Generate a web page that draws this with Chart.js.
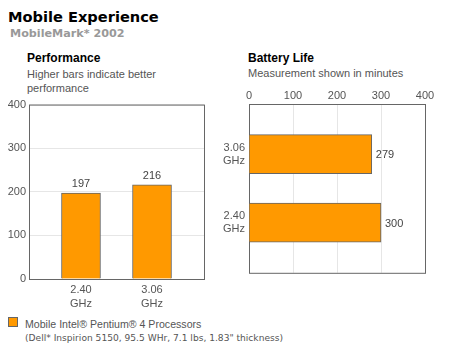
<!DOCTYPE html>
<html><head><meta charset="utf-8">
<script src="https://cdn.jsdelivr.net/npm/chart.js@4"></script>
<style>
html,body{margin:0;padding:0;background:#fff;width:450px;height:355px;overflow:hidden;position:relative;font-family:"Liberation Sans",Arial,sans-serif;}
.t{position:absolute;white-space:nowrap;line-height:1;}
canvas{position:absolute;}
</style></head><body>
<div class="t" style="left:8px;top:8px;font:bold 14.6px 'DejaVu Sans',Verdana,sans-serif;color:#000;">Mobile Experience</div>
<div class="t" style="left:10px;top:27px;font:bold 11.2px 'DejaVu Sans',Verdana,sans-serif;color:#999;">MobileMark* 2002</div>
<div class="t" style="left:27px;top:51px;font:bold 12px 'Liberation Sans',Arial,sans-serif;color:#000;">Performance</div>
<div class="t" style="left:27px;top:67px;font:11px 'Liberation Sans',Arial,sans-serif;color:#555;line-height:14px;">Higher bars indicate better<br>performance</div>
<div class="t" style="left:248px;top:51px;font:bold 12px 'Liberation Sans',Arial,sans-serif;color:#000;">Battery Life</div>
<div class="t" style="left:248px;top:67px;font:11px 'Liberation Sans',Arial,sans-serif;color:#555;">Measurement shown in minutes</div>
<div style="position:absolute;left:8px;top:317px;width:8px;height:8px;background:#FF9900;border:1px solid #666;"></div>
<div class="t" style="left:25px;top:318px;font:10.6px 'Liberation Sans',Arial,sans-serif;color:#555;">Mobile Intel® Pentium® 4 Processors</div>
<div class="t" style="left:25px;top:333px;font:9.1px 'DejaVu Sans',Verdana,sans-serif;color:#555;">(Dell* Inspirion 5150, 95.5 WHr, 7.1 lbs, 1.83" thickness)</div>
<canvas id="c1" width="215" height="220" style="left:0;top:95px;"></canvas>
<canvas id="c2" width="235" height="210" style="left:215px;top:80px;"></canvas>
<script>
// ---- data ----
const perfCategories = [["2.40","GHz"],["3.06","GHz"]];
const perfValues = [197, 216];
const perfTicks = [0, 100, 200, 300, 400];
const battCategories = [["3.06","GHz"],["2.40","GHz"]];
const battValues = [279, 300];
const battTicks = [0, 100, 200, 300, 400];
const seriesName = "Mobile Intel® Pentium® 4 Processors";

Chart.defaults.font.family = "'Liberation Sans', Arial, sans-serif";
Chart.defaults.font.size = 11;
Chart.defaults.color = '#555';
Chart.defaults.animation = false;

const ORANGE = '#FF9900', EDGE = '#666666', GRID = '#e6e6e6';

const boxPlugin = {
  id: 'box',
  beforeDatasetsDraw(chart) {
    const {ctx, chartArea: a} = chart;
    ctx.save();
    ctx.strokeStyle = EDGE; ctx.lineWidth = 1;
    ctx.strokeRect(a.left + 0.5, a.top + 0.5, a.right - a.left, a.bottom - a.top);
    ctx.restore();
  }
};
const valuePlugin = {
  id: 'values',
  afterDatasetsDraw(chart) {
    const ctx = chart.ctx, horiz = chart.options.indexAxis === 'y';
    const ds = chart.data.datasets[0];
    chart.getDatasetMeta(0).data.forEach((el, i) => {
      const v = horiz ? ds.data[i].x : ds.data[i].y;
      ctx.save();
      ctx.font = "11px 'Liberation Sans', Arial, sans-serif";
      ctx.fillStyle = '#444';
      ctx.textBaseline = 'middle';
      if (horiz) { ctx.textAlign = 'left'; ctx.fillText(String(v), el.x + 4, el.y + 1); }
      else { ctx.textAlign = 'center'; ctx.fillText(String(v), el.x, el.y - 9); }
      ctx.restore();
    });
  }
};
const idxTicks = (cats) => (scale) => { scale.ticks = cats.map((c, i) => ({value: i + 1})); };
const valTicks = (arr) => (scale) => { scale.ticks = arr.map(v => ({value: v})); };

new Chart(document.getElementById('c1'), {
  type: 'bar',
  data: { datasets: [{ label: seriesName,
    data: perfValues.map((v, i) => ({x: i + 1, y: v})),
    backgroundColor: ORANGE, borderColor: EDGE, borderWidth: 1, barThickness: 39 }] },
  options: {
    responsive: false,
    layout: { padding: { top: 9, right: 11, left: 0, bottom: 0 } },
    plugins: { legend: { display: false }, tooltip: { enabled: false } },
    scales: {
      x: { type: 'linear', offset: false, min: 0.268, max: 2.732,
        afterBuildTicks: idxTicks(perfCategories),
        afterFit: s => { s.height = 36; },
        grid: { display: false, drawTicks: false, offset: false }, border: { display: false },
        ticks: { autoSkip: false, maxRotation: 0, padding: 4, color: '#555',
          font: { size: 11, lineHeight: 1.25 },
          callback: v => perfCategories[Math.round(v) - 1] } },
      y: { min: 0, max: 400,
        afterBuildTicks: valTicks(perfTicks),
        afterFit: s => { s.width = 29; },
        grid: { color: GRID, drawTicks: false }, border: { display: false },
        ticks: { padding: 3, color: '#555' } }
    }
  },
  plugins: [boxPlugin, valuePlugin]
});

new Chart(document.getElementById('c2'), {
  type: 'bar',
  data: { datasets: [{ label: seriesName,
    data: battValues.map((v, i) => ({x: v, y: i + 1})),
    backgroundColor: ORANGE, borderColor: EDGE, borderWidth: 1, barThickness: 39 }] },
  options: {
    responsive: false,
    indexAxis: 'y',
    layout: { padding: { top: 0, right: 25, left: 0, bottom: 11 } },
    plugins: { legend: { display: false }, tooltip: { enabled: false } },
    scales: {
      x: { position: 'top', min: 0, max: 400,
        afterBuildTicks: valTicks(battTicks),
        afterFit: s => { s.height = 24; },
        grid: { color: GRID, drawTicks: false }, border: { display: false },
        ticks: { padding: 1, color: '#555' } },
      y: { type: 'linear', offset: false, reverse: true, min: 0.268, max: 2.732,
        afterBuildTicks: idxTicks(battCategories),
        afterFit: s => { s.width = 34; },
        grid: { display: false, drawTicks: false, offset: false }, border: { display: false },
        ticks: { autoSkip: false, padding: 4, color: '#555',
          font: { size: 11, lineHeight: 1.2 },
          callback: v => battCategories[Math.round(v) - 1] } }
    }
  },
  plugins: [boxPlugin, valuePlugin]
});
</script>
</body></html>
